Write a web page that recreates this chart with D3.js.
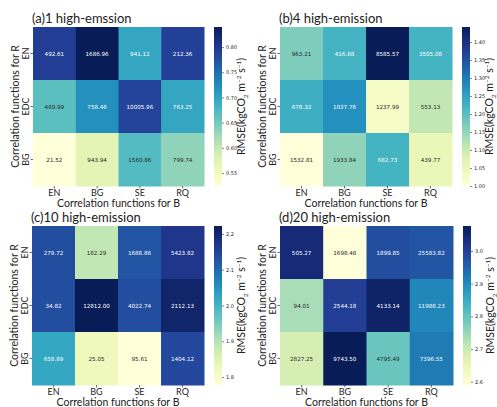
<!DOCTYPE html>
<html>
<head>
<meta charset="utf-8">
<script src="https://cdn.jsdelivr.net/npm/d3@7"></script>
<style>
  body { margin: 0; background: #fff; }
  text { font-family: Lato, "Open Sans", sans-serif; }
</style>
</head>
<body>
<div id="fig"></div>
<script>
// categories
var rowsR = ["EN", "EDC", "BG"];
var colsB = ["EN", "BG", "SE", "RQ"];
var titles = ["(a)1 high-emssion", "(b)4 high-emission", "(c)10 high-emission", "(d)20 high-emission"];

// annotated numbers in each cell
var annotA = [[492.61, 1686.96, 941.12, 212.36], [489.99, 758.46, 10005.96, 763.25], [21.52, 943.94, 1560.86, 799.74]];
var annotB = [[963.21, 416.88, 8585.57, 3505.08], [678.32, 1037.76, 1237.99, 553.13], [1532.81, 1933.84, 682.73, 439.77]];
var annotC = [[279.72, 182.29, 1688.86, 5423.82], [34.82, 12812.00, 4022.74, 2112.13], [658.89, 25.05, 95.61, 1404.12]];
var annotD = [[505.27, 1698.48, 1899.85, 25583.82], [94.01, 2544.18, 4133.14, 11988.23], [2827.25, 9743.50, 4795.49, 7396.55]];

// RMSE values (cell colour)
var rmseA = [[0.793, 0.840, 0.698, 0.790], [0.666, 0.720, 0.786, 0.698], [0.524, 0.571, 0.672, 0.635]];
var rmseB = [[1.168, 1.221, 1.442, 1.221], [1.230, 1.274, 1.031, 1.110], [1.000, 1.155, 1.221, 1.053]];
var rmseC = [[2.133, 1.889, 2.124, 2.169], [2.133, 2.222, 2.133, 2.204], [2.022, 1.822, 1.778, 2.142]];
var rmseD = [[3.042, 2.590, 2.979, 2.969], [2.736, 3.003, 3.061, 2.906], [2.687, 3.076, 2.794, 2.920]];

// colorbar ticks
var ticksA = [0.55, 0.60, 0.65, 0.70, 0.75, 0.80];
var ticksB = [1.00, 1.05, 1.10, 1.15, 1.20, 1.25, 1.30, 1.35, 1.40];
var ticksC = [1.8, 1.9, 2.0, 2.1, 2.2];
var ticksD = [2.6, 2.7, 2.8, 2.9, 3.0];

var panels = [
    { title: titles[0], annot: annotA, rmse: rmseA, ticks: ticksA, fmt: ".2f", x0: 33, y0: 27, w: 171, h: 159 },
    { title: titles[1], annot: annotB, rmse: rmseB, ticks: ticksB, fmt: ".2f", x0: 280, y0: 27, w: 172, h: 159 },
    { title: titles[2], annot: annotC, rmse: rmseC, ticks: ticksC, fmt: ".1f", x0: 32, y0: 226, w: 172, h: 159 },
    { title: titles[3], annot: annotD, rmse: rmseD, ticks: ticksD, fmt: ".1f", x0: 280, y0: 226, w: 173, h: 159 }
];

var W = 497, H = 407;
var svg = d3.select("#fig").append("svg").attr("width", W).attr("height", H);
var defs = svg.append("defs");

function luminance(c) {
    var rgb = d3.rgb(c);
    var f = function (v) { v /= 255; return v <= 0.03928 ? v / 12.92 : Math.pow((v + 0.055) / 1.055, 2.4); };
    return 0.2126 * f(rgb.r) + 0.7152 * f(rgb.g) + 0.0722 * f(rgb.b);
}

panels.forEach(function (p, pi) {
    var all = d3.merge(p.rmse);
    var vmin = d3.min(all), vmax = d3.max(all);
    var color = d3.scaleSequential(d3.interpolateYlGnBu).domain([vmin, vmax]);

    var x = d3.scaleBand().domain(colsB).range([p.x0, p.x0 + p.w]);
    var y = d3.scaleBand().domain(rowsR).range([p.y0, p.y0 + p.h]);

    var g = svg.append("g");

    var cells = [];
    rowsR.forEach(function (r, i) {
        colsB.forEach(function (c, j) {
            cells.push({ r: r, c: c, v: p.rmse[i][j], a: p.annot[i][j] });
        });
    });

    g.selectAll(".cell").data(cells).enter().append("rect")
        .attr("x", function (d) { return x(d.c); })
        .attr("y", function (d) { return y(d.r); })
        .attr("width", x.bandwidth() + 0.5)
        .attr("height", y.bandwidth() + 0.5)
        .attr("fill", function (d) { return color(d.v); });

    g.selectAll(".ann").data(cells).enter().append("text")
        .attr("x", function (d) { return x(d.c) + x.bandwidth() / 2; })
        .attr("y", function (d) { return y(d.r) + y.bandwidth() / 2; })
        .attr("text-anchor", "middle")
        .attr("dominant-baseline", "central")
        .style("font-family", "'DejaVu Sans', sans-serif")
        .style("font-size", "5.6px")
        .attr("fill", function (d) { return luminance(color(d.v)) > 0.408 ? "#262626" : "#ffffff"; })
        .text(function (d) { return d3.format(".2f")(d.a); });

    // axes
    var xa = g.append("g")
        .attr("transform", "translate(0," + (p.y0 + p.h) + ")")
        .call(d3.axisBottom(x).tickSize(2.5).tickPadding(1));
    var ya = g.append("g")
        .attr("transform", "translate(" + p.x0 + ",0)")
        .call(d3.axisLeft(y).tickSize(2.5).tickPadding(2));
    [xa, ya].forEach(function (a) {
        a.select(".domain").remove();
        a.selectAll(".tick line").attr("stroke", "#333").attr("stroke-width", 0.7);
        a.selectAll(".tick text").style("font-family", "Lato, sans-serif").style("font-size", "9px").attr("fill", "#222");
    });
    ya.selectAll(".tick text")
        .attr("transform", "rotate(-90)")
        .attr("x", 0).attr("y", -4)
        .attr("dy", 0)
        .attr("text-anchor", "middle");

    g.append("text")
        .attr("x", p.x0 + p.w / 2)
        .attr("y", p.y0 + p.h + 20.5)
        .attr("text-anchor", "middle")
        .style("font-size", "10.5px")
        .attr("fill", "#222")
        .text("Correlation functions for B");

    g.append("text")
        .attr("transform", "translate(" + (p.x0 - 14) + "," + (p.y0 + p.h / 2) + ") rotate(-90)")
        .attr("text-anchor", "middle")
        .style("font-size", "10.5px")
        .attr("fill", "#222")
        .text("Correlation functions for R");

    g.append("text")
        .attr("x", p.x0 - 1)
        .attr("y", p.y0 - 4)
        .style("font-size", "13px")
        .attr("fill", "#222")
        .text(p.title);

    // colorbar
    var cbx = p.x0 + p.w + 10, cbw = 8;
    var gid = "grad" + pi;
    var grad = defs.append("linearGradient").attr("id", gid)
        .attr("x1", 0).attr("y1", 1).attr("x2", 0).attr("y2", 0);
    d3.range(0, 1.0001, 0.05).forEach(function (t) {
        grad.append("stop").attr("offset", t).attr("stop-color", d3.interpolateYlGnBu(t));
    });
    g.append("rect")
        .attr("x", cbx).attr("y", p.y0)
        .attr("width", cbw).attr("height", p.h)
        .attr("fill", "url(#" + gid + ")");

    var cy = d3.scaleLinear().domain([vmin, vmax]).range([p.y0 + p.h, p.y0]);
    var ca = g.append("g")
        .attr("transform", "translate(" + (cbx + cbw) + ",0)")
        .call(d3.axisRight(cy).tickValues(p.ticks).tickFormat(d3.format(p.fmt)).tickSize(2).tickPadding(2));
    ca.select(".domain").remove();
    ca.selectAll(".tick line").attr("stroke", "#333").attr("stroke-width", 0.6);
    ca.selectAll(".tick text").style("font-family", "'DejaVu Sans', sans-serif").style("font-size", "5px").attr("fill", "#222");

    var lab = g.append("text")
        .attr("transform", "translate(" + (cbx + cbw + 23) + "," + (p.y0 + p.h / 2) + ") rotate(-90)")
        .attr("text-anchor", "middle")
        .style("font-size", "10.5px")
        .attr("fill", "#222");
    lab.append("tspan").text("RMSE(kgCO");
    lab.append("tspan").attr("dy", 3).style("font-size", "6.5px").text("2");
    lab.append("tspan").attr("dy", -3).text(" m");
    lab.append("tspan").attr("dy", -4).style("font-size", "6.5px").text("\u22122");
    lab.append("tspan").attr("dy", 4).text(" s");
    lab.append("tspan").attr("dy", -4).style("font-size", "6.5px").text("\u22121");
    lab.append("tspan").attr("dy", 4).text(")");
});
</script>
</body>
</html>
